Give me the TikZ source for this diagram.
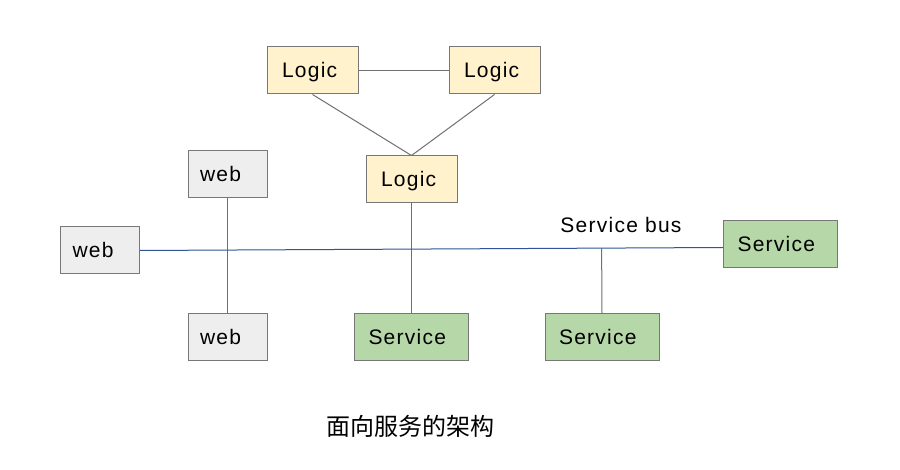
\documentclass[tikz,border=0pt]{standalone}
\usepackage{fontspec}
\usetikzlibrary{calc}
\setmainfont{Liberation Sans}[LetterSpace=6]
\newfontfamily\cjk{Noto Sans CJK SC}
\definecolor{logicfill}{HTML}{FFF2CC}
\definecolor{webfill}{HTML}{EEEEEE}
\definecolor{servfill}{HTML}{B6D7A8}
\definecolor{boxline}{HTML}{777777}
\definecolor{linkline}{HTML}{707070}
\definecolor{busline}{HTML}{2F5597}
\begin{document}
\begin{tikzpicture}[x=1pt,y=-1pt,
  box/.style={draw=boxline,line width=1pt,minimum height=47pt,inner ysep=0pt,align=left,text height=15pt,text depth=0pt,font=\fontsize{21}{25}\selectfont},
  logicbox/.style={box,fill=logicfill,inner xsep=15pt,text width=61pt},
  webbox/.style={box,fill=webfill,inner xsep=12pt,text width=55pt},
  servbox/.style={box,fill=servfill,inner xsep=14pt,text width=86pt},
  link/.style={draw=linkline,line width=1pt},
  bus/.style={draw=busline,line width=1pt}]
\useasboundingbox[fill=white] (0,0) rectangle (900,470);
\node[logicbox] (l1) at (312.5,70.5) {Logic};
\node[logicbox] (l2) at (494.5,70.5) {Logic};
\node[logicbox] (l3) at (411.5,179.5) {Logic};
\node[webbox] (wt) at (227.5,174.5) {web};
\node[webbox] (wl) at (100,250.5) {web};
\node[webbox] (wb) at (227.5,337.5) {web};
\node[servbox] (s1) at (411.5,337.5) {Service};
\node[servbox] (s2) at (602,337.5) {Service};
\node[servbox] (s3) at (780.5,244.5) {Service};
\node[anchor=base,inner sep=0pt,font=\fontsize{21}{25}\selectfont] (busl) at (621,233) {Service bus};
\node[inner sep=0pt,font=\cjk\fontsize{24}{28}\selectfont] (cap) at (410,426) {面向服务的架构};
\coordinate (bl) at (wl.east);
\coordinate (br) at ([yshift=-3pt]s3.west);
\coordinate (b2) at ($(bl)!0.7918!(br)$);
\path[link] (l1) -- (l2);
\path[link] (l1.south) -- (l3.north);
\path[link] (l2.south) -- (l3.north);
\path[link] (wt) -- (wb);
\path[link] (l3) -- (s1);
\path[bus] (bl) -- (br);
\path[link] (b2) -- (s2.north);
\end{tikzpicture}
\end{document}
